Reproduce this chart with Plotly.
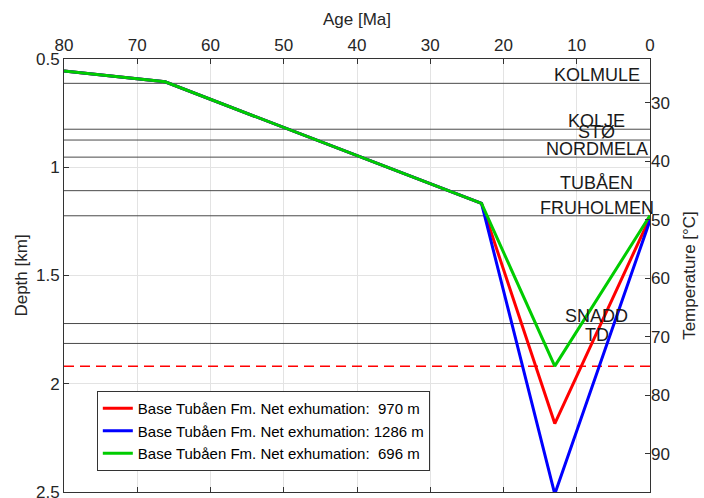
import plotly.graph_objects as go

# ---- data ----
age_hist = [80, 66.2, 23, 13, 0]
depth_red = [0.555, 0.605, 1.167, 2.184, 1.232]
depth_blue = [0.555, 0.605, 1.167, 2.51, 1.245]
depth_green = [0.555, 0.605, 1.167, 1.919, 1.223]
names = ["Base Tubåen Fm. Net exhumation:\u00a0 970 m",
         "Base Tubåen Fm. Net exhumation: 1286 m",
         "Base Tubåen Fm. Net exhumation:\u00a0 696 m"]

formations = ["KOLMULE", "KOLJE", "STØ", "NORDMELA", "TUBÅEN", "FRUHOLMEN", "SNADD", "TD"]
formation_depths = [0.612, 0.824, 0.874, 0.953, 1.108, 1.224, 1.722, 1.814]
label_age = 7.3
dashed_depth = 1.919

age_range = [80, 0]
depth_range = [2.5005, 0.4995]
age_ticks = [80, 70, 60, 50, 40, 30, 20, 10, 0]
depth_ticks = [0.5, 1, 1.5, 2, 2.5]
depth_ticktext = ["0.5", "1", "1.5", "2", "2.5"]
T_SURF = 4.0
GRAD = 37.0
temp_ticks = [30, 40, 50, 60, 70, 80, 90]

FONT = "Liberation Sans, Arial, sans-serif"
TXT = "#262626"

fig = go.Figure()

for d in formation_depths:
    fig.add_trace(go.Scatter(x=age_range, y=[d, d], mode="lines",
                             line=dict(color="#4a4a4a", width=1),
                             showlegend=False, hoverinfo="skip"))
fig.add_trace(go.Scatter(x=age_range, y=[dashed_depth, dashed_depth], mode="lines",
                         line=dict(color="#ff0000", width=1.5, dash="10px,6px"),
                         showlegend=False, hoverinfo="skip"))

for ys, col, nm in [(depth_red, "#ff0000", names[0]),
                    (depth_blue, "#0000ff", names[1]),
                    (depth_green, "#00cc00", names[2])]:
    fig.add_trace(go.Scatter(x=age_hist, y=ys, mode="lines", name=nm,
                             line=dict(color=col, width=3)))

# invisible trace to anchor the temperature axis
fig.add_trace(go.Scatter(x=[], y=[], yaxis="y2", showlegend=False, hoverinfo="skip"))

for f, d in zip(formations, formation_depths):
    fig.add_annotation(x=label_age, y=d, text=f, showarrow=False,
                       xanchor="center", yanchor="bottom", yshift=-4,
                       font=dict(family=FONT, size=18, color="#1a1a1a"))

temp_range = [T_SURF + GRAD * depth_range[0], T_SURF + GRAD * depth_range[1]]

fig.update_layout(
    width=704, height=498,
    margin=dict(l=64, r=54, t=59, b=6),
    paper_bgcolor="white", plot_bgcolor="white",
    font=dict(family=FONT, size=17, color=TXT),
    xaxis=dict(side="top", range=age_range, tickvals=age_ticks, automargin=False,
               title=dict(text="Age [Ma]", font=dict(size=17), standoff=6),
               ticks="inside", ticklen=5, tickcolor="#333",
               showline=True, linecolor="#333", linewidth=1, mirror="ticks",
               showgrid=True, gridcolor="#e3e3e3", gridwidth=1, zeroline=False),
    yaxis=dict(range=depth_range, tickvals=depth_ticks, automargin=False,
               ticktext=depth_ticktext, ticklabeloverflow="allow",
               title=dict(text="Depth [km]", font=dict(size=17), standoff=4),
               ticks="inside", ticklen=5, tickcolor="#333",
               showline=True, linecolor="#333", linewidth=1, mirror=True,
               showgrid=True, gridcolor="#e3e3e3", gridwidth=1, zeroline=False),
    yaxis2=dict(overlaying="y", side="right", range=temp_range, tickvals=temp_ticks,
                automargin=False,
                title=dict(text="Temperature [°C]", font=dict(size=17), standoff=14),
                ticks="inside", ticklen=5, tickcolor="#333",
                showline=False, showgrid=False, zeroline=False),
    legend=dict(x=0.056, y=0.233, xanchor="left", yanchor="top",
                bgcolor="white", bordercolor="#333", borderwidth=1,
                font=dict(family=FONT, size=15, color="#000"),
                tracegroupgap=0),
    showlegend=True,
)

fig.write_html("out.html")
